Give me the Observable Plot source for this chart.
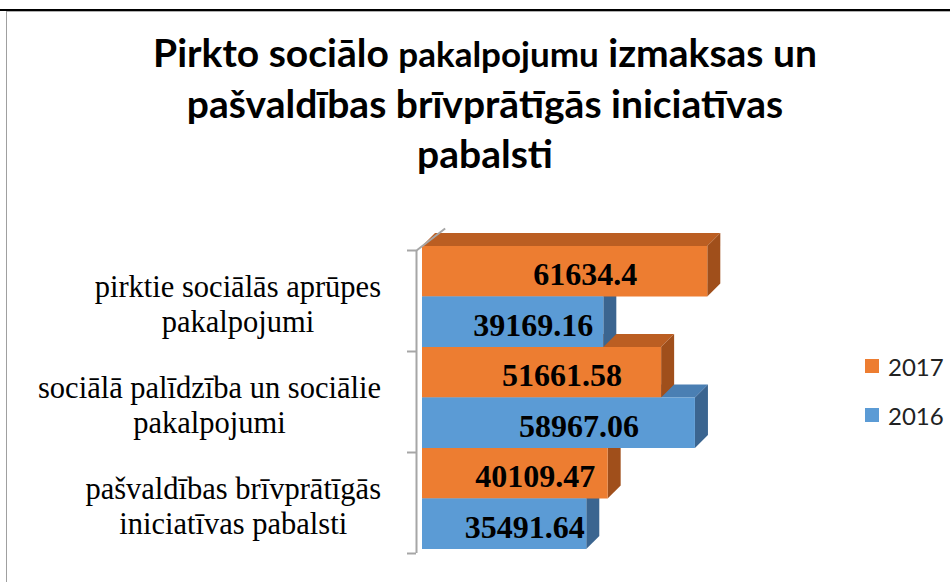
<!DOCTYPE html>
<html>
<head>
<meta charset="utf-8">
<script src="https://cdn.jsdelivr.net/npm/d3@7"></script>
<script src="https://cdn.jsdelivr.net/npm/@observablehq/plot@0.6"></script>
<style>
  html, body { margin: 0; padding: 0; background: #fff; }
  #wrap { position: relative; width: 950px; height: 582px; overflow: hidden; background: #fff; }
  #topline { position: absolute; left: 0; top: 9px; width: 950px; height: 2px; background: #000; }
  #topline2 { position: absolute; left: 7px; top: 11px; width: 943px; height: 1px; background: #b0b0b0; }
  #leftline { position: absolute; left: 6px; top: 11px; width: 1px; height: 571px; background: #a0a0a0; }
  #title { position: absolute; left: 35px; width: 900px; top: 27px; text-align: center;
           font-family: Lato, "Noto Sans", sans-serif; font-weight: 700; font-size: 39px; line-height: 50px; color: #000; }
  #title .small { font-size: 35px; }
  #chart { position: absolute; left: 0; top: 0; }
  .leg { position: absolute; font-family: Lato, "Noto Sans", sans-serif; font-size: 24px; color: #222; line-height: 24px; }
  .sw { position: absolute; width: 14px; height: 14px; }
</style>
</head>
<body>
<div id="wrap">
  <div id="topline"></div>
  <div id="topline2"></div>
  <div id="leftline"></div>
  <div id="title">Pirkto sociālo <span class="small">pakalpojumu</span> izmaksas un<br>pašvaldības brīvprātīgās iniciatīvas<br>pabalsti</div>
  <div id="chart"></div>
  <div id="legend"></div>
</div>
<script>
// ---- data ----
const categories = [
  "pirktie sociālās aprūpes\npakalpojumi",
  "sociālā palīdzība un sociālie\npakalpojumi",
  "pašvaldības brīvprātīgās\niniciatīvas pabalsti"
];
const seriesNames = ["2017", "2016"];
const values2017 = [61634.4, 51661.58, 40109.47];
const values2016 = [39169.16, 58967.06, 35491.64];

// ---- styling ----
const frontColors = {"2017": "#ED7D31", "2016": "#5B9BD5"};
const topColors   = {"2017": "#BB5E22", "2016": "#4A7FB3"};
const sideColors  = {"2017": "#A04F1B", "2016": "#3B6590"};
const axisGray = "#A6A6A6";
const depthX = 2812;   // 3-D depth along x (value units)
const depthY = 0.257;  // 3-D depth along y (bar units)

const seriesValues = {"2017": values2017, "2016": values2016};
const rows = [];
categories.forEach((cat, c) => {
  seriesNames.forEach((s, k) => {
    const top = 2 * c + k;
    rows.push({id: `${c}-${s}`, cat, series: s, value: seriesValues[s][c], top, bottom: top + 1});
  });
});

const topPts = rows.flatMap(r => [
  {id: r.id, series: r.series, y: r.top, x1: 0, x2: r.value},
  {id: r.id, series: r.series, y: r.top - depthY, x1: depthX, x2: r.value + depthX}
]);
const sidePts = rows.flatMap(r => [
  {id: r.id, series: r.series, x: r.value, y1: r.bottom, y2: r.top},
  {id: r.id, series: r.series, x: r.value + depthX, y1: r.bottom - depthY, y2: r.top - depthY}
]);

const plot = Plot.plot({
  width: 950,
  height: 582,
  marginLeft: 422,
  marginRight: 204,
  marginTop: 246,
  marginBottom: 33,
  x: {domain: [0, 70000], axis: null},
  y: {domain: [0, 6], reverse: true, label: null},
  color: {type: "identity"},
  style: {background: "transparent", overflow: "visible"},
  marks: [
    Plot.areaX(topPts, {y: "y", x1: "x1", x2: "x2", z: "id", fill: d => topColors[d.series]}),
    Plot.areaY(sidePts, {x: "x", y1: "y1", y2: "y2", z: "id", fill: d => sideColors[d.series]}),
    Plot.rect(rows, {x1: 0, x2: "value", y1: "top", y2: "bottom", fill: d => frontColors[d.series]}),
    Plot.ruleX([0], {y1: 0, y2: 6, dx: -6, dy: 4, stroke: axisGray, strokeWidth: 2}),
    Plot.link([0], {x1: 0, y1: 0, x2: 2.2 * depthX, y2: -1.7 * depthY, dx: -6, dy: 4, stroke: axisGray, strokeWidth: 2}),
    Plot.axisY([0, 2, 4, 6], {tickSize: 9, tickFormat: () => "", dx: -6, dy: 4, stroke: axisGray, strokeWidth: 2, label: null}),
    Plot.text(rows, {
      x: d => d.value / 2, y: d => d.top + 0.5, text: d => String(d.value),
      fontFamily: "Liberation Serif", fontWeight: "bold", fontSize: 32, fill: "#000",
      dx: 20, dy: 3, lineAnchor: "middle"
    }),
    Plot.text(categories, {
      x: 0, y: (d, i) => 2 * i + 1, text: d => d,
      fontFamily: "Liberation Serif", fontSize: 30.5, fill: "#000",
      textAnchor: "middle", lineAnchor: "middle", lineHeight: 1.15, dy: 6
    })
  ]
});
document.getElementById("chart").appendChild(plot);

// right-align each (centred) category label block against the axis
const textGroups = plot.querySelectorAll('g[aria-label="text"]');
const catGroup = textGroups[textGroups.length - 1];
const svgRect = plot.getBoundingClientRect();
catGroup.querySelectorAll("text").forEach(t => {
  const b = t.getBoundingClientRect();
  const right = b.right - svgRect.left;
  const shift = 381 - right;
  const tr = t.getAttribute("transform") || "";
  t.setAttribute("transform", `translate(${shift},0) ` + tr);
});

// legend
const legend = document.getElementById("legend");
[["2017", 359], ["2016", 408]].forEach(([s, y]) => {
  const sw = document.createElement("div");
  sw.className = "sw";
  sw.style.left = "865px"; sw.style.top = y + "px"; sw.style.background = frontColors[s];
  legend.appendChild(sw);
  const lb = document.createElement("div");
  lb.className = "leg";
  lb.style.left = "888px"; lb.style.top = (y - 4) + "px";
  lb.textContent = s;
  legend.appendChild(lb);
});
</script>
</body>
</html>
